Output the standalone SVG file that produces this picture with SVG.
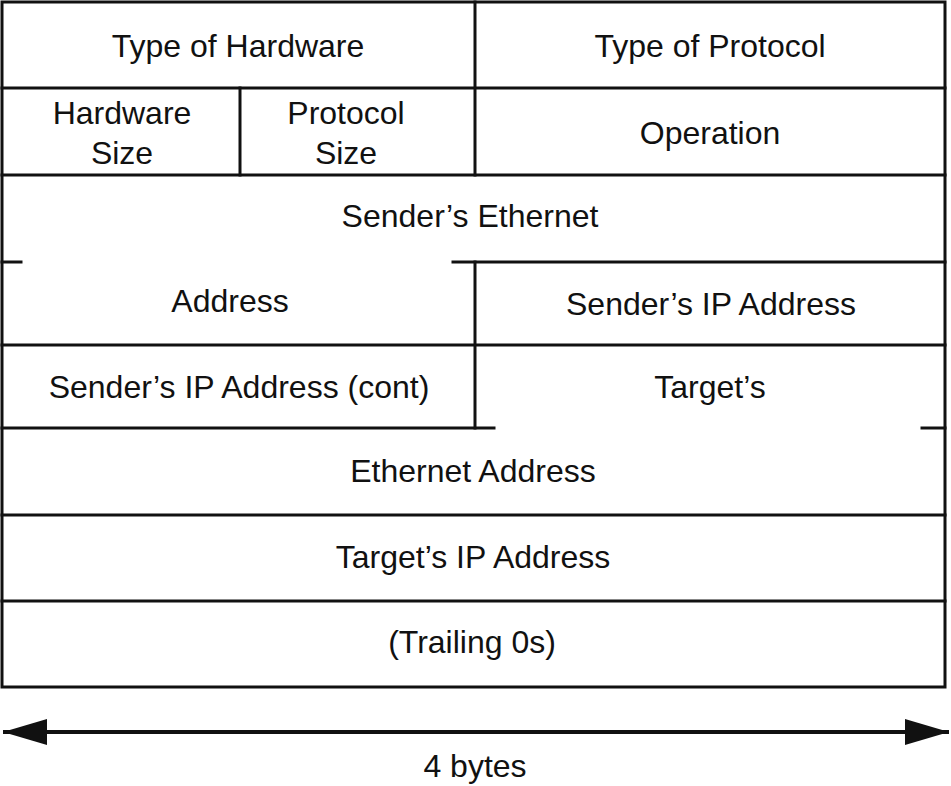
<svg xmlns="http://www.w3.org/2000/svg" width="951" height="786" viewBox="0 0 951 786">
<defs>
<style>
.ln{stroke:#111;stroke-width:3;fill:none;stroke-linecap:square}
.t{font-family:"Liberation Sans",Arial,sans-serif;font-size:32px;fill:#111;text-anchor:middle}
</style>
<marker id="ah" viewBox="0 0 44 26" refX="44" refY="13" markerWidth="44" markerHeight="26" markerUnits="userSpaceOnUse" orient="auto-start-reverse">
<path d="M0,0 L44,13 L0,26 Z" fill="#111"/>
</marker>
</defs>
<g id="frame">
<rect class="ln" x="2" y="2" width="943" height="685"/>
<line class="ln" x1="2" y1="88" x2="945" y2="88"/>
<line class="ln" x1="2" y1="175" x2="945" y2="175"/>
<line class="ln" x1="2" y1="262" x2="21" y2="262"/>
<line class="ln" x1="453" y1="262" x2="945" y2="262"/>
<line class="ln" x1="2" y1="345" x2="945" y2="345"/>
<line class="ln" x1="2" y1="428" x2="494" y2="428"/>
<line class="ln" x1="922" y1="428" x2="945" y2="428"/>
<line class="ln" x1="2" y1="515" x2="945" y2="515"/>
<line class="ln" x1="2" y1="601" x2="945" y2="601"/>
<line class="ln" x1="475" y1="2" x2="475" y2="175"/>
<line class="ln" x1="240" y1="88" x2="240" y2="175"/>
<line class="ln" x1="475" y1="262" x2="475" y2="428"/>
</g>
<g id="n-type-hw"><text class="t" x="238" y="57">Type of Hardware</text></g>
<g id="n-type-proto"><text class="t" x="710" y="57">Type of Protocol</text></g>
<g id="n-hw-size"><text class="t" x="122" y="124">Hardware</text><text class="t" x="122" y="164">Size</text></g>
<g id="n-proto-size"><text class="t" x="346" y="124">Protocol</text><text class="t" x="346" y="164">Size</text></g>
<g id="n-operation"><text class="t" x="710" y="144">Operation</text></g>
<g id="n-sender-eth"><text class="t" x="470" y="227">Sender’s Ethernet</text><text class="t" x="230" y="312">Address</text></g>
<g id="n-sender-ip"><text class="t" x="711" y="315">Sender’s IP Address</text></g>
<g id="n-sender-ip-cont"><text class="t" x="239" y="398">Sender’s IP Address (cont)</text></g>
<g id="n-target-eth"><text class="t" x="710" y="398">Target’s</text><text class="t" x="473" y="482">Ethernet Address</text></g>
<g id="n-target-ip"><text class="t" x="473" y="568">Target’s IP Address</text></g>
<g id="n-trailing"><text class="t" x="472" y="653">(Trailing 0s)</text></g>
<g id="connectors">
<line x1="3" y1="732" x2="949" y2="732" stroke="#111" stroke-width="4" marker-start="url(#ah)" marker-end="url(#ah)"/>
</g>
<g id="n-bytes"><text class="t" x="475" y="777">4 bytes</text></g>
</svg>
